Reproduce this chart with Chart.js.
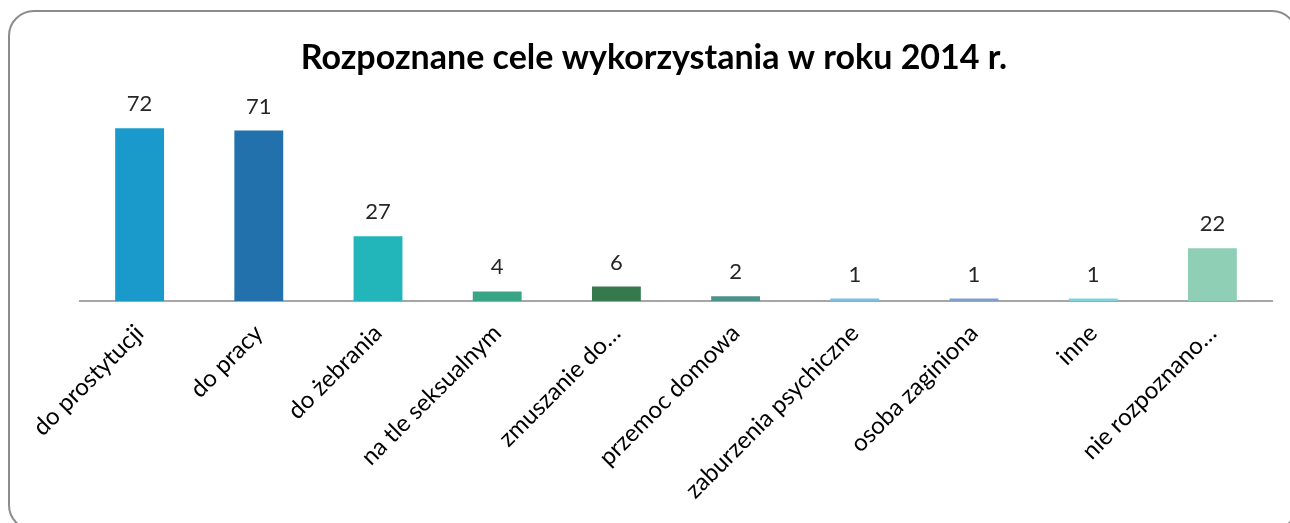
<!DOCTYPE html>
<html>
<head>
<meta charset="utf-8">
<script src="https://cdn.jsdelivr.net/npm/chart.js@4"></script>
<style>
  html, body { margin: 0; padding: 0; background: #fff; overflow: hidden; }
  canvas { display: block; }
</style>
</head>
<body>
<canvas id="chart" width="1290" height="523"></canvas>
<script>
// ---- data ----
const categories = [
  'do prostytucji', 'do pracy', 'do żebrania', 'na tle seksualnym', 'zmuszanie do…',
  'przemoc domowa', 'zaburzenia psychiczne', 'osoba zaginiona', 'inne', 'nie rozpoznano…'
];
const values = [72, 71, 27, 4, 6, 2, 1, 1, 1, 22];
const barColors = [
  '#1a9acb', '#2271ad', '#22b6bb', '#3aa585', '#36794c',
  '#4e918a', '#7dbde3', '#7f9fcb', '#7fd2d8', '#8fcfb6'
];
const titleText = 'Rozpoznane cele wykorzystania w roku 2014 r.';

const FONT = 'Lato, "Open Sans", sans-serif';

// rounded frame around the chart (runs past the right and bottom edges)
const frame = {
  id: 'frame',
  beforeDraw(chart) {
    const ctx = chart.ctx;
    ctx.save();
    ctx.strokeStyle = '#8c8c8c';
    ctx.lineWidth = 2;
    ctx.beginPath();
    ctx.roundRect(9, 11, 1288, 519, 25);
    ctx.stroke();
    ctx.restore();
  }
};

// title, centred on the whole frame rather than the plot area
const frameTitle = {
  id: 'frameTitle',
  afterDraw(chart) {
    const ctx = chart.ctx;
    ctx.save();
    ctx.font = 'bold 34px ' + FONT;
    ctx.fillStyle = '#000';
    ctx.textAlign = 'center';
    ctx.textBaseline = 'middle';
    ctx.fillText(titleText, 654, 58);
    ctx.restore();
  }
};

// value labels above bars
const valueLabels = {
  id: 'valueLabels',
  afterDatasetsDraw(chart) {
    const ctx = chart.ctx;
    const meta = chart.getDatasetMeta(0);
    ctx.save();
    ctx.font = '22px ' + FONT;
    ctx.fillStyle = '#262626';
    ctx.textAlign = 'center';
    ctx.textBaseline = 'alphabetic';
    meta.data.forEach((bar, i) => {
      ctx.fillText(String(values[i]), bar.x, bar.y - 17);
    });
    ctx.restore();
  }
};

new Chart(document.getElementById('chart'), {
  type: 'bar',
  data: {
    labels: categories,
    datasets: [{
      data: values,
      backgroundColor: barColors,
      borderWidth: 0,
      categoryPercentage: 1.0,
      barPercentage: 0.41
    }]
  },
  options: {
    responsive: false,
    animation: false,
    layout: { padding: { left: 80, right: 18, top: 109, bottom: 0 } },
    plugins: {
      legend: { display: false },
      tooltip: { enabled: false },
      title: { display: false }
    },
    scales: {
      x: {
        grid: { display: false },
        border: { display: true, color: '#a6a6a6', width: 2 },
        ticks: {
          color: '#000',
          font: { family: FONT, size: 24 },
          minRotation: 45,
          maxRotation: 45,
          autoSkip: false,
          padding: 10
        },
        afterFit(scale) { scale.height = 222; }
      },
      y: {
        display: false,
        min: 0,
        max: 80
      }
    }
  },
  plugins: [frame, valueLabels, frameTitle]
});
</script>
</body>
</html>
